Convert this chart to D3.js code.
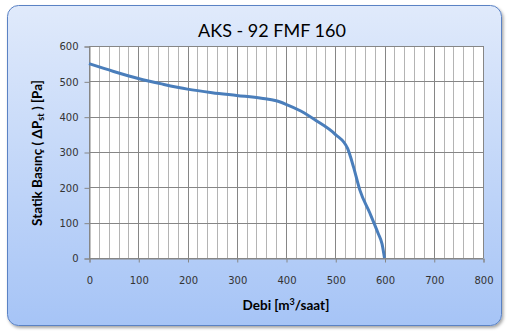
<!DOCTYPE html>
<html>
<head>
<meta charset="utf-8">
<script src="https://cdn.jsdelivr.net/npm/d3@7"></script>
<style>
  body { margin: 0; background: #fff; }
  svg { display: block; }
</style>
</head>
<body>
<div id="chart"></div>
<script>
// debi [m3/saat] ve statik basinc [Pa]
const debi = [0, 50, 100, 150, 200, 250, 300, 350, 380, 400, 430, 460, 500, 525, 537, 550, 570, 587, 595, 600];
const basinc = [550, 528, 508, 492, 478, 468, 460, 452, 445, 435, 416, 390, 350, 310, 258, 192, 128, 70, 40, 0];
const xTicks = [0, 100, 200, 300, 400, 500, 600, 700, 800];
const yTicks = [0, 100, 200, 300, 400, 500, 600];

const width = 508, height = 334;
const [mt, mr, mb, ml] = [46, 25, 76, 89];

const svg = d3.select('#chart').append('svg')
  .attr('width', width)
  .attr('height', height);

const defs = svg.append('defs');
const grad = defs.append('linearGradient')
  .attr('id', 'bg').attr('x1', 0).attr('y1', 0).attr('x2', 0).attr('y2', 1);
grad.append('stop').attr('offset', '0%').attr('stop-color', '#e0eafb');
grad.append('stop').attr('offset', '100%').attr('stop-color', '#a6c4f6');

const filter = defs.append('filter').attr('id', 'shadow')
  .attr('x', '-5%').attr('y', '-5%').attr('width', '110%').attr('height', '115%');
filter.append('feDropShadow')
  .attr('dx', 1.5).attr('dy', 2).attr('stdDeviation', 1.5)
  .attr('flood-color', '#000').attr('flood-opacity', 0.35);

// arka plan kutusu
svg.append('rect')
  .attr('x', 7.5).attr('y', 5.5)
  .attr('width', 494).attr('height', 320)
  .attr('rx', 11)
  .attr('fill', 'url(#bg)')
  .attr('stroke', '#5a82c4')
  .attr('stroke-width', 1)
  .attr('filter', 'url(#shadow)');

const x = d3.scaleLinear([0, 800], [ml, width - mr]);
const y = d3.scaleLinear([0, 600], [height - mb, mt]);

// cizim alani
svg.append('rect')
  .attr('x', x(0)).attr('y', y(600))
  .attr('width', x(800) - x(0)).attr('height', y(0) - y(600))
  .attr('fill', '#fff');

// ince dikey cizgiler (her 20)
svg.append('g')
  .selectAll('line')
  .data(d3.range(20, 800, 20).filter(d => d % 100 !== 0))
  .join('line')
  .attr('x1', d => Math.round(x(d)) + 0.5).attr('x2', d => Math.round(x(d)) + 0.5)
  .attr('y1', y(600)).attr('y2', y(0))
  .attr('stroke', '#b4b4b4');

// ana dikey cizgiler
svg.append('g')
  .selectAll('line')
  .data(xTicks)
  .join('line')
  .attr('x1', d => Math.round(x(d)) + 0.5).attr('x2', d => Math.round(x(d)) + 0.5)
  .attr('y1', y(600)).attr('y2', y(0))
  .attr('stroke', '#868686');

// yatay cizgiler
svg.append('g')
  .selectAll('line')
  .data(yTicks)
  .join('line')
  .attr('x1', x(0)).attr('x2', x(800))
  .attr('y1', d => Math.round(y(d)) + 0.5).attr('y2', d => Math.round(y(d)) + 0.5)
  .attr('stroke', '#868686');

// eksenler
const xAxis = d3.axisBottom(x).tickValues(xTicks).tickSize(4).tickPadding(14);
const yAxis = d3.axisLeft(y).tickValues(yTicks).tickSize(5).tickPadding(6);

svg.append('g')
  .attr('transform', `translate(0.5,${Math.round(y(0)) + 0.5})`)
  .call(xAxis)
  .call(g => g.select('.domain').attr('stroke', '#868686'))
  .call(g => g.selectAll('.tick line').attr('stroke', '#868686'))
  .call(g => g.selectAll('.tick text')
    .attr('fill', '#333').style('font', '10px "DejaVu Sans"'));

svg.append('g')
  .attr('transform', `translate(${Math.round(x(0)) + 0.5},0.5)`)
  .call(yAxis)
  .call(g => g.select('.domain').attr('stroke', '#868686'))
  .call(g => g.selectAll('.tick line').attr('stroke', '#868686'))
  .call(g => g.selectAll('.tick text')
    .attr('fill', '#333').style('font', '10px "DejaVu Sans"'));

// egri
const line = d3.line()
  .x((d, i) => x(debi[i]))
  .y(d => y(d))
  .curve(d3.curveMonotoneX);

svg.append('path')
  .datum(basinc)
  .attr('d', line)
  .attr('fill', 'none')
  .attr('stroke', '#4a7ebb')
  .attr('stroke-width', 3)
  .attr('stroke-linejoin', 'round');

// basliklar
svg.append('text')
  .attr('x', 272).attr('y', 37)
  .attr('text-anchor', 'middle')
  .style('font', '18px Lato')
  .attr('fill', '#000')
  .text('AKS - 92 FMF 160');

const xt = svg.append('text')
  .attr('x', 286).attr('y', 310)
  .attr('text-anchor', 'middle')
  .style('font', 'bold 13.5px Lato')
  .text('Debi [m');
xt.append('tspan').attr('dy', -5).style('font-size', '9px').text('3');
xt.append('tspan').attr('dy', 5).text('/saat]');

const yt = svg.append('text')
  .attr('transform', 'translate(42,153) rotate(-90)')
  .attr('text-anchor', 'middle')
  .style('font', 'bold 13.5px Lato')
  .text('Statik Basınç ( ΔP');
yt.append('tspan').attr('dy', 2).style('font-size', '9px').text('st');
yt.append('tspan').attr('dy', -2).text(' ) [Pa]');
</script>
</body>
</html>
